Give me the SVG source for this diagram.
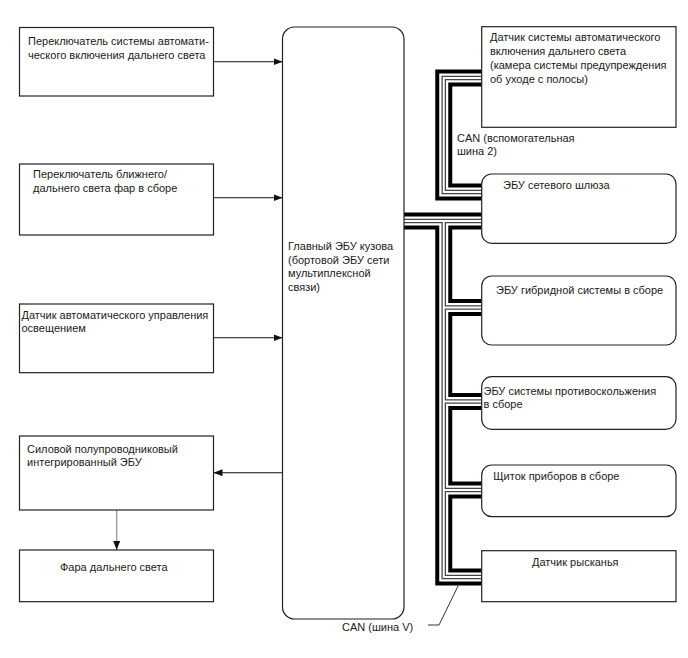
<svg xmlns="http://www.w3.org/2000/svg" xmlns:xlink="http://www.w3.org/1999/xlink" width="688" height="658" viewBox="0 0 688 658">
<style>
  .box { fill: #fff; stroke: #222; stroke-width: 1.2; }
  .t { font-family: "Liberation Sans", Arial, sans-serif; font-size: 11px; fill: #1a1a1a; }
  .arr { stroke: #111; stroke-width: 1.1; fill: none; }
  .arrg { stroke: #999; stroke-width: 1.3; fill: none; }
  .lead { stroke: #333; stroke-width: 1; fill: none; }
</style>
<defs>
  <marker id="ah" markerUnits="userSpaceOnUse" markerWidth="9" markerHeight="7" refX="9" refY="3.5" orient="auto">
    <path d="M0,0 L9,3.5 L0,7 z" fill="#111"/>
  </marker>
  <g id="busPaths" fill="none" stroke-linejoin="miter" stroke-linecap="butt">
    <path d="M481.7 78 H443.75 V192 H481.7"/>
    <path d="M404 221 H481.7"/>
    <path d="M443.75 221 V577 H481.7"/>
    <path d="M443.75 307.5 H481.7"/>
    <path d="M443.75 401.5 H481.7"/>
    <path d="M443.75 490 H481.7"/>
  </g>
</defs>
<rect width="688" height="658" fill="#fff"/>

<g id="connectors">
  <use xlink:href="#busPaths" href="#busPaths" stroke="#000" stroke-width="17"/>
  <use xlink:href="#busPaths" href="#busPaths" stroke="#fff" stroke-width="9"/>
  <use xlink:href="#busPaths" href="#busPaths" stroke="#444" stroke-width="4.5"/>
  <use xlink:href="#busPaths" href="#busPaths" stroke="#fff" stroke-width="2"/>
  <line class="arr" x1="213.5" y1="61.7" x2="282.5" y2="61.7" marker-end="url(#ah)"/>
  <line class="arr" x1="213.5" y1="197.7" x2="282.5" y2="197.7" marker-end="url(#ah)"/>
  <line class="arr" x1="213.5" y1="337.7" x2="282.5" y2="337.7" marker-end="url(#ah)"/>
  <line class="arr" x1="282.5" y1="472.7" x2="213.5" y2="472.7" marker-end="url(#ah)"/>
  <line class="arrg" x1="116.7" y1="510" x2="116.7" y2="550" marker-end="url(#ah)"/>
  <polyline class="lead" points="428,625 439,625 459,584"/>
  <text class="t" x="457" y="141.5">CAN (вспомогательная</text>
  <text class="t" x="457" y="155">шина 2)</text>
  <text class="t" x="342" y="631">CAN (шина V)</text>
</g>

<g id="n-auto-hb-switch">
  <rect class="box" x="19.5" y="27.5" width="194" height="68.5"/>
  <text class="t" x="28" y="45">Переключатель системы автомати-</text>
  <text class="t" x="28" y="58.5">ческого включения дальнего света</text>
</g>
<g id="n-dimmer-switch">
  <rect class="box" x="19.5" y="164" width="194" height="71"/>
  <text class="t" x="33" y="178">Переключатель ближнего/</text>
  <text class="t" x="33" y="191.5">дальнего света фар в сборе</text>
</g>
<g id="n-light-sensor">
  <rect class="box" x="19.5" y="304" width="194" height="68.7"/>
  <text class="t" x="21.5" y="318.5">Датчик автоматического управления</text>
  <text class="t" x="21.5" y="331.5">освещением</text>
</g>
<g id="n-ipd-ecu">
  <rect class="box" x="19.5" y="436" width="194" height="74"/>
  <text class="t" x="27" y="453">Силовой полупроводниковый</text>
  <text class="t" x="27" y="466">интегрированный ЭБУ</text>
</g>
<g id="n-headlight">
  <rect class="box" x="19.5" y="550" width="194" height="51.7"/>
  <text class="t" x="60" y="570.5">Фара дальнего света</text>
</g>
<g id="n-main-body-ecu">
  <rect class="box" x="282.5" y="27" width="121.5" height="592" rx="12" ry="12"/>
  <text class="t" x="288" y="250">Главный ЭБУ кузова</text>
  <text class="t" x="288" y="263.5">(бортовой ЭБУ сети</text>
  <text class="t" x="288" y="277">мультиплексной</text>
  <text class="t" x="288" y="290.5">связи)</text>
</g>
<g id="n-camera">
  <rect class="box" x="481.7" y="26.7" width="194.3" height="100.6"/>
  <text class="t" x="490" y="41">Датчик системы автоматического</text>
  <text class="t" x="490" y="55">включения дальнего света</text>
  <text class="t" x="490" y="69">(камера системы предупреждения</text>
  <text class="t" x="490" y="83">об уходе с полосы)</text>
</g>
<g id="n-gateway">
  <rect class="box" x="481.7" y="174" width="194.3" height="69.3" rx="10" ry="10"/>
  <text class="t" x="503" y="189">ЭБУ сетевого шлюза</text>
</g>
<g id="n-hybrid">
  <rect class="box" x="481.7" y="276" width="194.3" height="69" rx="10" ry="10"/>
  <text class="t" x="496" y="294">ЭБУ гибридной системы в сборе</text>
</g>
<g id="n-skid">
  <rect class="box" x="481.7" y="376.7" width="194.3" height="52.6" rx="10" ry="10"/>
  <text class="t" x="483.5" y="394.5">ЭБУ системы противоскольжения</text>
  <text class="t" x="483.5" y="408">в сборе</text>
</g>
<g id="n-meter">
  <rect class="box" x="481.7" y="465" width="194.3" height="51.7" rx="10" ry="10"/>
  <text class="t" x="493.3" y="480">Щиток приборов в сборе</text>
</g>
<g id="n-yaw">
  <rect class="box" x="481.7" y="550.7" width="194.3" height="51" />
  <text class="t" x="532" y="566">Датчик рысканья</text>
</g>
</svg>
